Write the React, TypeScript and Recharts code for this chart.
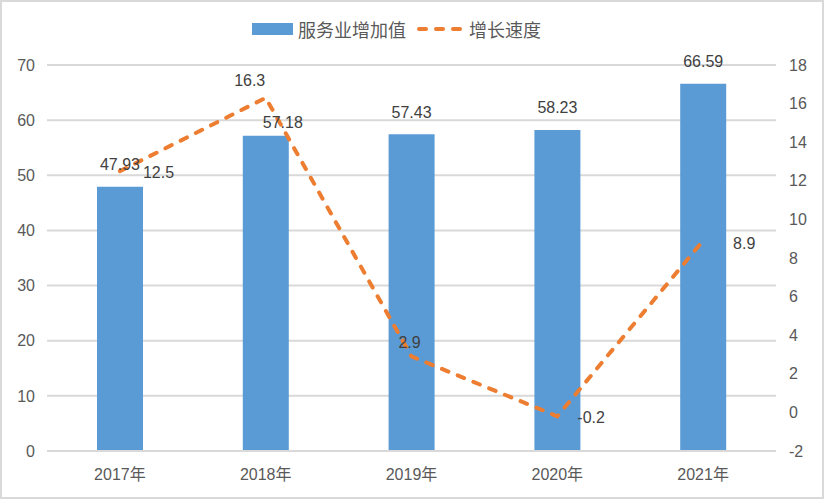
import React from 'react';
import {
  ComposedChart,
  Bar,
  Line,
  XAxis,
  YAxis,
  CartesianGrid,
  Legend,
  LabelList,
} from 'recharts';

const categories = ['2017年', '2018年', '2019年', '2020年', '2021年'];
const serviceValues = [47.93, 57.18, 57.43, 58.23, 66.59];
const growthRates = [12.5, 16.3, 2.9, -0.2, 8.9];
const leftTicks = [0, 10, 20, 30, 40, 50, 60, 70];
const rightTicks = [-2, 0, 2, 4, 6, 8, 10, 12, 14, 16, 18];

const barName = '服务业增加值';
const lineName = '增长速度';

const data = categories.map((c, i) => ({
  year: c,
  value: serviceValues[i],
  rate: growthRates[i],
}));

// label placement (styling, not data)
const barLabelShift: [number, number][] = [
  [0, 0],
  [17, 9.5],
  [0, 0],
  [0, 0],
  [0, 0],
];
const lineLabelPlace: { anchor: 'start' | 'middle'; dx: number; dy: number }[] = [
  { anchor: 'start', dx: 23, dy: 1 },
  { anchor: 'middle', dx: -16, dy: -18 },
  { anchor: 'middle', dx: -2, dy: -14 },
  { anchor: 'start', dx: 20, dy: 1 },
  { anchor: 'start', dx: 30, dy: 3 },
];

const FONT = "'Liberation Sans', 'Noto Sans CJK SC', sans-serif";
const CJK = "'Noto Sans CJK SC', 'Liberation Sans', sans-serif";
const AXIS_COLOR = '#595959';
const LABEL_COLOR = '#404040';
const BAR_COLOR = '#5B9BD5';
const LINE_COLOR = '#ED7D31';
const GRID = '#D9D9D9';

const BarLabel = (props: any) => {
  const { x, y, width, value, index } = props;
  const [sx, sy] = barLabelShift[index] || [0, 0];
  const cx = Number(x) + Number(width) / 2 + sx;
  const cy = Number(y) - 22.5 + sy;
  return (
    <text
      x={cx}
      y={cy + 5.7}
      textAnchor="middle"
      fill={LABEL_COLOR}
      fontSize={16}
      fontFamily={FONT}
    >
      {value}
    </text>
  );
};

const LineLabel = (props: any) => {
  const { x, y, value, index } = props;
  const p = lineLabelPlace[index] || { anchor: 'middle', dx: 0, dy: -14 };
  return (
    <text
      x={Number(x) + p.dx}
      y={Number(y) + p.dy + 5.7}
      textAnchor={p.anchor}
      fill={LABEL_COLOR}
      fontSize={16}
      fontFamily={FONT}
    >
      {value}
    </text>
  );
};

const LegendContent = () => (
  <div
    style={{
      height: 51,
      display: 'flex',
      alignItems: 'flex-start',
      paddingLeft: 250,
      boxSizing: 'border-box',
    }}
  >
    <div style={{ display: 'flex', alignItems: 'center', height: 30 }}>
      <div style={{ width: 41, height: 12, background: BAR_COLOR, marginRight: 5 }} />
      <span
        style={{
          fontFamily: CJK,
          fontSize: 18,
          color: AXIS_COLOR,
          lineHeight: '30px',
          marginRight: 11,
        }}
      >
        {barName}
      </span>
      <svg width={45} height={8} style={{ marginRight: 7 }}>
        <line
          x1={2}
          y1={4}
          x2={43}
          y2={4}
          stroke={LINE_COLOR}
          strokeWidth={4}
          strokeDasharray="7 10"
          strokeLinecap="round"
        />
      </svg>
      <span
        style={{
          fontFamily: CJK,
          fontSize: 18,
          color: AXIS_COLOR,
          lineHeight: '30px',
        }}
      >
        {lineName}
      </span>
    </div>
  </div>
);

export default function App() {
  return (
    <div
      style={{
        position: 'absolute',
        left: 0,
        top: 0,
        width: 824,
        height: 499,
        border: `2px solid ${GRID}`,
        boxSizing: 'border-box',
        background: '#fff',
      }}
    >
      <ComposedChart
        width={820}
        height={495}
        data={data}
        margin={{ top: 12, right: 0, bottom: 16, left: 0 }}
        barCategoryGap="34%"
      >
        <CartesianGrid
          yAxisId="left"
          vertical={false}
          stroke={GRID}
          strokeWidth={2}
        />
        <XAxis
          dataKey="year"
          axisLine={{ stroke: GRID, strokeWidth: 2 }}
          tickLine={false}
          tickSize={0}
          tickMargin={18}
          height={30}
          tick={{ fill: AXIS_COLOR, fontSize: 16, fontFamily: FONT }}
          interval={0}
        />
        <YAxis
          yAxisId="left"
          orientation="left"
          domain={[0, 70]}
          ticks={leftTicks}
          width={45}
          axisLine={false}
          tickLine={false}
          tickSize={0}
          tickMargin={12}
          tick={{ fill: AXIS_COLOR, fontSize: 16, fontFamily: FONT }}
          interval={0}
        />
        <YAxis
          yAxisId="right"
          orientation="right"
          domain={[-2, 18]}
          ticks={rightTicks}
          width={46}
          axisLine={false}
          tickLine={false}
          tickSize={0}
          tickMargin={13}
          tick={{ fill: AXIS_COLOR, fontSize: 16, fontFamily: FONT }}
          interval={0}
        />
        <Legend verticalAlign="top" align="left" content={<LegendContent />} />
        <Bar
          yAxisId="left"
          dataKey="value"
          name={barName}
          fill={BAR_COLOR}
          barSize={46}
          isAnimationActive={false}
        >
          <LabelList dataKey="value" content={<BarLabel />} />
        </Bar>
        <Line
          yAxisId="right"
          type="linear"
          dataKey="rate"
          name={lineName}
          stroke={LINE_COLOR}
          strokeWidth={4}
          strokeDasharray="7 10"
          strokeLinecap="round"
          dot={false}
          activeDot={false}
          isAnimationActive={false}
        >
          <LabelList dataKey="rate" content={<LineLabel />} />
        </Line>
      </ComposedChart>
    </div>
  );
}
